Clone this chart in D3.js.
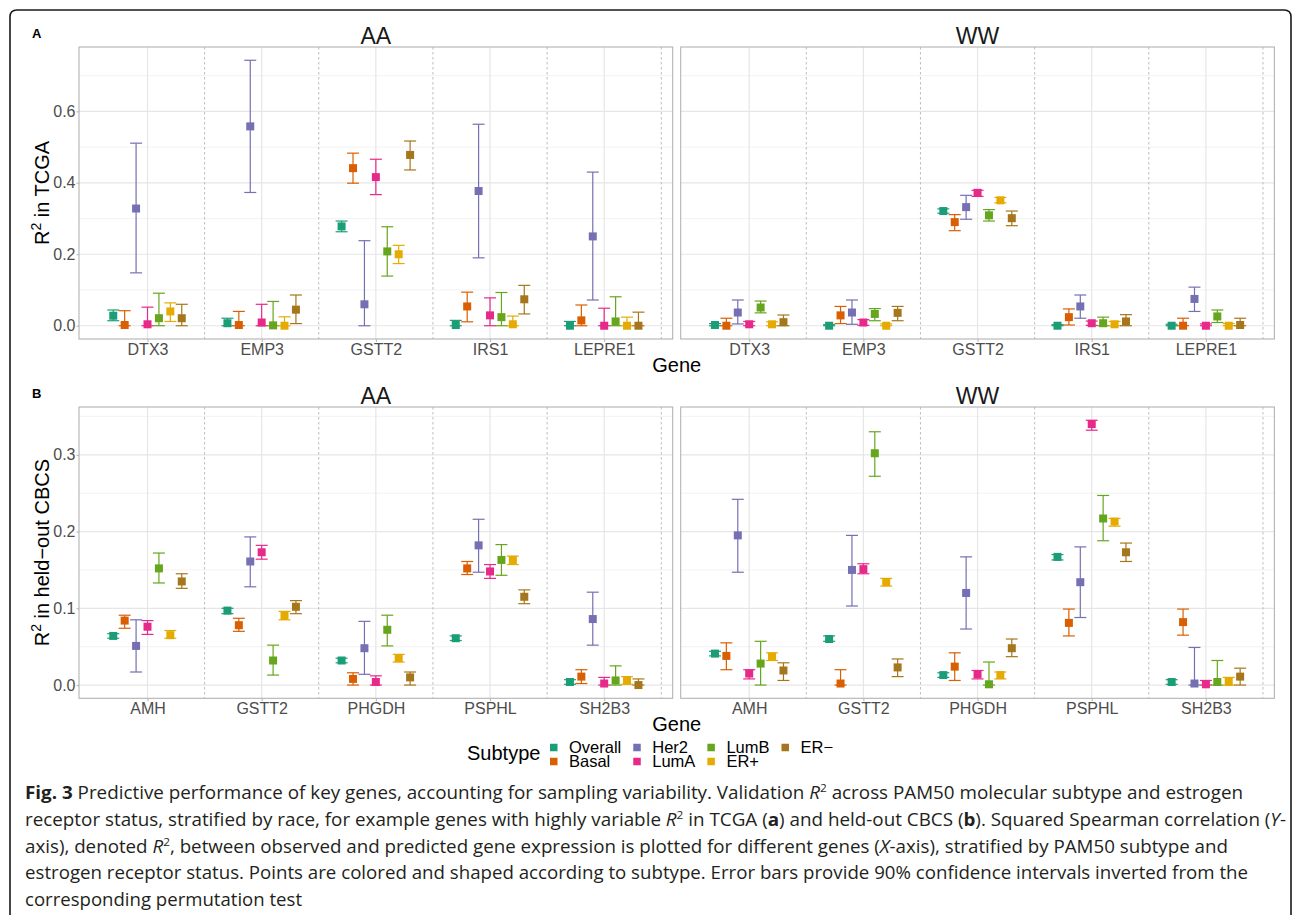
<!DOCTYPE html>
<html><head><meta charset="utf-8">
<script src="https://cdn.jsdelivr.net/npm/d3@7"></script>
<style>body{margin:0;background:#fff;} svg{display:block;}</style>
</head><body>
<svg id="fig" width="1292" height="915"></svg>
<script>
// ---------------- data ----------------
const subtypes = ["Overall","Basal","Her2","LumA","LumB","ER+","ER\u2212"];
const subtypeColors = ["#1B9E77","#D95F02","#7570B3","#E7298A","#66A61E","#E6AB02","#A6761D"];
const races = ["AA","WW"];
const genesTCGA = ["DTX3","EMP3","GSTT2","IRS1","LEPRE1"];
const genesCBCS = ["AMH","GSTT2","PHGDH","PSPHL","SH2B3"];
const ticksTCGA = [0,0.2,0.4,0.6];
const minorTCGA = [0.1,0.3,0.5,0.7];
const ticksCBCS = [0,0.1,0.2,0.3];
const minorCBCS = [0.05,0.15,0.25,0.35];

// rows = genes, columns = subtypes (Overall, Basal, Her2, LumA, LumB, ER+, ER-)
const tcgaAAEst = [
  [0.028,0.002,0.328,0.004,0.021,0.040,0.021],
  [0.007,0.002,0.558,0.009,0.001,0.000,0.045],
  [0.278,0.441,0.060,0.416,0.208,0.200,0.478],
  [0.002,0.054,0.377,0.029,0.024,0.004,0.074],
  [0.000,0.015,0.250,0.000,0.012,0.000,0.000]];
const tcgaAALo = [
  [0.014,0.000,0.148,0.000,0.000,0.012,0.000],
  [0.000,0.000,0.373,0.000,0.000,0.000,0.006],
  [0.263,0.399,0.000,0.367,0.139,0.174,0.436],
  [0.000,0.011,0.190,0.000,0.000,0.000,0.033],
  [0.000,0.000,0.072,0.000,0.000,0.000,0.000]];
const tcgaAAHi = [
  [0.044,0.042,0.511,0.052,0.091,0.064,0.060],
  [0.021,0.040,0.743,0.060,0.068,0.025,0.086],
  [0.293,0.483,0.238,0.466,0.277,0.225,0.517],
  [0.015,0.094,0.564,0.078,0.093,0.027,0.113],
  [0.012,0.058,0.430,0.049,0.081,0.024,0.038]];
const tcgaWWEst = [
  [0.002,0.000,0.037,0.004,0.051,0.004,0.010],
  [0.000,0.029,0.037,0.009,0.033,0.000,0.036],
  [0.321,0.290,0.332,0.372,0.309,0.351,0.301],
  [0.000,0.024,0.054,0.007,0.007,0.004,0.012],
  [0.000,0.000,0.075,0.000,0.026,0.000,0.002]];
const tcgaWWLo = [
  [0.000,0.000,0.005,0.000,0.036,0.000,0.000],
  [0.000,0.006,0.004,0.001,0.014,0.000,0.014],
  [0.315,0.266,0.298,0.362,0.293,0.344,0.280],
  [0.000,0.002,0.021,0.001,0.000,0.000,0.000],
  [0.000,0.000,0.040,0.000,0.009,0.000,0.000]];
const tcgaWWHi = [
  [0.006,0.021,0.072,0.012,0.069,0.011,0.030],
  [0.003,0.054,0.072,0.017,0.048,0.005,0.054],
  [0.327,0.311,0.365,0.379,0.325,0.359,0.321],
  [0.003,0.047,0.086,0.013,0.024,0.012,0.031],
  [0.004,0.021,0.108,0.005,0.044,0.006,0.021]];

const cbcsAAEst = [
  [0.064,0.084,0.051,0.076,0.152,0.065,0.135],
  [0.097,0.078,0.161,0.173,0.032,0.090,0.102],
  [0.032,0.008,0.048,0.004,0.072,0.035,0.010],
  [0.061,0.152,0.182,0.148,0.163,0.163,0.115],
  [0.004,0.011,0.086,0.002,0.006,0.006,0.000]];
const cbcsAALo = [
  [0.061,0.074,0.017,0.066,0.133,0.061,0.126],
  [0.093,0.070,0.128,0.164,0.013,0.085,0.093],
  [0.029,0.000,0.014,0.000,0.051,0.030,0.000],
  [0.058,0.144,0.147,0.139,0.143,0.157,0.106],
  [0.001,0.002,0.052,0.000,0.000,0.001,0.000]];
const cbcsAAHi = [
  [0.067,0.091,0.085,0.084,0.172,0.071,0.145],
  [0.100,0.087,0.193,0.182,0.052,0.096,0.110],
  [0.035,0.016,0.083,0.012,0.091,0.040,0.017],
  [0.064,0.161,0.216,0.157,0.183,0.168,0.124],
  [0.007,0.020,0.121,0.010,0.025,0.011,0.008]];
const cbcsWWEst = [
  [0.041,0.038,0.195,0.015,0.028,0.037,0.019],
  [0.060,0.002,0.150,0.151,0.302,0.134,0.023],
  [0.013,0.024,0.120,0.014,0.001,0.013,0.048],
  [0.167,0.081,0.134,0.340,0.217,0.213,0.173],
  [0.004,0.082,0.002,0.001,0.004,0.004,0.011]];
const cbcsWWLo = [
  [0.038,0.020,0.147,0.008,0.000,0.032,0.006],
  [0.057,0.000,0.103,0.145,0.272,0.129,0.011],
  [0.010,0.006,0.073,0.008,0.000,0.008,0.037],
  [0.163,0.064,0.088,0.332,0.188,0.207,0.161],
  [0.001,0.065,0.000,0.000,0.000,0.000,0.000]];
const cbcsWWHi = [
  [0.044,0.055,0.242,0.020,0.057,0.042,0.029],
  [0.064,0.020,0.195,0.158,0.330,0.139,0.034],
  [0.016,0.042,0.167,0.019,0.030,0.017,0.060],
  [0.170,0.099,0.180,0.345,0.247,0.217,0.185],
  [0.007,0.099,0.049,0.006,0.032,0.010,0.022]];

const captionLines = [
  [["Fig. 3","b"],[" Predictive performance of key genes, accounting for sampling variability. Validation "],["R","i"],["2","sup"],[" across PAM50 molecular subtype and estrogen"]],
  [["receptor status, stratified by race, for example genes with highly variable "],["R","i"],["2","sup"],[" in TCGA ("],["a","b"],[") and held-out CBCS ("],["b","b"],["). Squared Spearman correlation ("],["Y","i"],["-"]],
  [["axis), denoted "],["R","i"],["2","sup"],[", between observed and predicted gene expression is plotted for different genes ("],["X","i"],["-axis), stratified by PAM50 subtype and"]],
  [["estrogen receptor status. Points are colored and shaped according to subtype. Error bars provide 90% confidence intervals inverted from the"]],
  [["corresponding permutation test"]]
];

// ---------------- drawing ----------------
const svg = d3.select("#fig");
const FONT = "'Liberation Sans', Arial, Helvetica, sans-serif";
const panelX = [[79, 672.7], [680.7, 1274.4]];

svg.append("path")
  .attr("d", "M10,980 V17 Q10,10 17,10 H1284 Q1291,10 1291,17 V980")
  .attr("fill", "none").attr("stroke", "#1a1a1a").attr("stroke-width", 1.6);

function drawPanel(cfg) {
  const allVals = [];
  cfg.lo.forEach(m => m.forEach(r => r.forEach(v => allVals.push(v))));
  cfg.hi.forEach(m => m.forEach(r => r.forEach(v => allVals.push(v))));
  cfg.est.forEach(m => m.forEach(r => r.forEach(v => allVals.push(v))));
  const [mn, mx] = d3.extent(allVals);
  const span = mx - mn;
  const y = d3.scaleLinear().domain([mn - 0.05 * span, mx + 0.05 * span]).range([cfg.bottom, cfg.top]);

  races.forEach((race, r) => {
    const [x0, x1] = panelX[r];
    const xs = d3.scalePoint().domain(cfg.genes).range([x0, x1]).padding(0.6);
    const step = xs.step();
    const g = svg.append("g");

    // grid
    g.selectAll(".minor").data(cfg.minor).join("line")
      .attr("x1", x0).attr("x2", x1).attr("y1", d => y(d)).attr("y2", d => y(d))
      .attr("stroke", "#f0f0f0").attr("stroke-width", 0.9);
    g.selectAll(".major").data(cfg.ticks).join("line")
      .attr("x1", x0).attr("x2", x1).attr("y1", d => y(d)).attr("y2", d => y(d))
      .attr("stroke", "#e6e6e6").attr("stroke-width", 1.2);
    g.selectAll(".vmajor").data(cfg.genes).join("line")
      .attr("x1", d => xs(d)).attr("x2", d => xs(d)).attr("y1", cfg.top).attr("y2", cfg.bottom)
      .attr("stroke", "#e6e6e6").attr("stroke-width", 1.2);
    // dotted separators
    g.selectAll(".sep").data(cfg.genes).join("line")
      .attr("x1", d => xs(d) + step / 2).attr("x2", d => xs(d) + step / 2)
      .attr("y1", cfg.top).attr("y2", cfg.bottom)
      .attr("stroke", "#bdbdbd").attr("stroke-width", 1).attr("stroke-dasharray", "2.5,2.5");

    // marks
    const pts = [];
    cfg.genes.forEach((gene, gi) => {
      subtypes.forEach((s, si) => {
        pts.push({
          x: xs(gene) + (si - 3) * 0.1 * step,
          est: cfg.est[r][gi][si], lo: cfg.lo[r][gi][si], hi: cfg.hi[r][gi][si],
          color: subtypeColors[si]
        });
      });
    });
    const cap = 0.105 * step / 2;
    const eb = g.selectAll(".eb").data(pts).join("g");
    eb.append("line").attr("x1", d => d.x).attr("x2", d => d.x)
      .attr("y1", d => y(d.lo)).attr("y2", d => y(d.hi))
      .attr("stroke", d => d.color).attr("stroke-width", 1.2);
    eb.append("line").attr("x1", d => d.x - cap).attr("x2", d => d.x + cap)
      .attr("y1", d => y(d.lo)).attr("y2", d => y(d.lo))
      .attr("stroke", d => d.color).attr("stroke-width", 1.2);
    eb.append("line").attr("x1", d => d.x - cap).attr("x2", d => d.x + cap)
      .attr("y1", d => y(d.hi)).attr("y2", d => y(d.hi))
      .attr("stroke", d => d.color).attr("stroke-width", 1.2);
    g.selectAll(".pt").data(pts).join("rect")
      .attr("x", d => d.x - 4).attr("y", d => y(d.est) - 4)
      .attr("width", 8).attr("height", 8).attr("fill", d => d.color);

    // border
    g.append("rect").attr("x", x0).attr("y", cfg.top).attr("width", x1 - x0).attr("height", cfg.bottom - cfg.top)
      .attr("fill", "none").attr("stroke", "#b3b3b3").attr("stroke-width", 1.1);

    // strip title
    g.append("text").attr("x", (x0 + x1) / 2).attr("y", cfg.top - 3)
      .attr("text-anchor", "middle").attr("font-family", FONT).attr("font-size", 23)
      .attr("fill", "#1a1a1a").text(race);

    // x axis
    const xa = g.append("g").attr("transform", `translate(0,${cfg.bottom})`)
      .call(d3.axisBottom(xs).tickSize(3).tickPadding(1.5));
    xa.select(".domain").remove();
    xa.selectAll("line").attr("stroke", "#b3b3b3");
    xa.selectAll("text").attr("font-family", FONT).attr("font-size", 16).attr("fill", "#4d4d4d");

    if (r === 0) {
      const ya = g.append("g").attr("transform", `translate(${x0},0)`)
        .call(d3.axisLeft(y).tickValues(cfg.ticks).tickFormat(d3.format(".1f")).tickSize(2.5).tickPadding(1));
      ya.select(".domain").remove();
      ya.selectAll("line").attr("stroke", "#b3b3b3");
      ya.selectAll("text").attr("font-family", FONT).attr("font-size", 16).attr("fill", "#4d4d4d");
    }
  });

  // y title
  const cy = (cfg.top + cfg.bottom) / 2;
  const yt = svg.append("text").attr("transform", `translate(49,${cy}) rotate(-90)`)
    .attr("text-anchor", "middle").attr("font-family", FONT).attr("font-size", 20).attr("fill", "#000");
  yt.append("tspan").text("R");
  yt.append("tspan").attr("dy", -8).attr("font-size", 14).text("2");
  yt.append("tspan").attr("dy", 8).text(cfg.ytitle);

  // x title
  svg.append("text").attr("x", (panelX[0][0] + panelX[1][1]) / 2).attr("y", cfg.bottom + 33)
    .attr("text-anchor", "middle").attr("font-family", FONT).attr("font-size", 20).attr("fill", "#000").text("Gene");

  // panel letter
  svg.append("text").attr("x", 32).attr("y", cfg.top - 9)
    .attr("font-family", FONT).attr("font-weight", "bold").attr("font-size", 13).attr("fill", "#000").text(cfg.letter);
}

drawPanel({top: 47, bottom: 339, genes: genesTCGA,
  est: [tcgaAAEst, tcgaWWEst], lo: [tcgaAALo, tcgaWWLo], hi: [tcgaAAHi, tcgaWWHi],
  ticks: ticksTCGA, minor: minorTCGA, ytitle: " in TCGA", letter: "A"});
drawPanel({top: 407, bottom: 698.3, genes: genesCBCS,
  est: [cbcsAAEst, cbcsWWEst], lo: [cbcsAALo, cbcsWWLo], hi: [cbcsAAHi, cbcsWWHi],
  ticks: ticksCBCS, minor: minorCBCS, ytitle: " in held\u2212out CBCS", letter: "B"});

// legend
const lg = svg.append("g");
lg.append("text").attr("x", 467).attr("y", 760).attr("font-family", FONT).attr("font-size", 20)
  .attr("fill", "#000").text("Subtype");
let colX = 550;
for (let c = 0; c < Math.ceil(subtypes.length / 2); c++) {
  let maxW = 0;
  for (let rr = 0; rr < 2; rr++) {
    const i = c * 2 + rr;
    if (i >= subtypes.length) break;
    const cyy = 747.5 + rr * 14;
    lg.append("rect").attr("x", colX).attr("y", cyy - 3.75).attr("width", 7.5).attr("height", 7.5)
      .attr("fill", subtypeColors[i]);
    const t = lg.append("text").attr("x", colX + 19).attr("y", cyy + 5.5).attr("font-family", FONT)
      .attr("font-size", 16.5).attr("fill", "#000").text(subtypes[i]);
    maxW = Math.max(maxW, t.node().getComputedTextLength());
  }
  colX = colX + 19 + maxW + 12;
}

// caption
const capStarts = [25, 25, 25, 25, 25];
const capEnds = [1243, 1286, 1228, 1248, 302];
captionLines.forEach((segs, li) => {
  const t = svg.append("text").attr("x", capStarts[li]).attr("y", 799 + li * 26.8)
    .attr("font-family", "'Open Sans', 'Noto Sans', sans-serif").attr("font-size", 17.5).attr("fill", "#231f20")
    .attr("textLength", capEnds[li] - capStarts[li]).attr("lengthAdjust", "spacingAndGlyphs");
  let shifted = false;
  segs.forEach(([txt, st]) => {
    const sp = t.append("tspan").text(txt);
    if (st === "b") sp.attr("font-weight", "bold");
    if (st === "i") sp.attr("font-style", "italic");
    if (st === "sup") { sp.attr("font-size", 11).attr("dy", -7); shifted = true; }
    else if (shifted) { sp.attr("dy", 7); shifted = false; }
  });
});
</script>
</body></html>
